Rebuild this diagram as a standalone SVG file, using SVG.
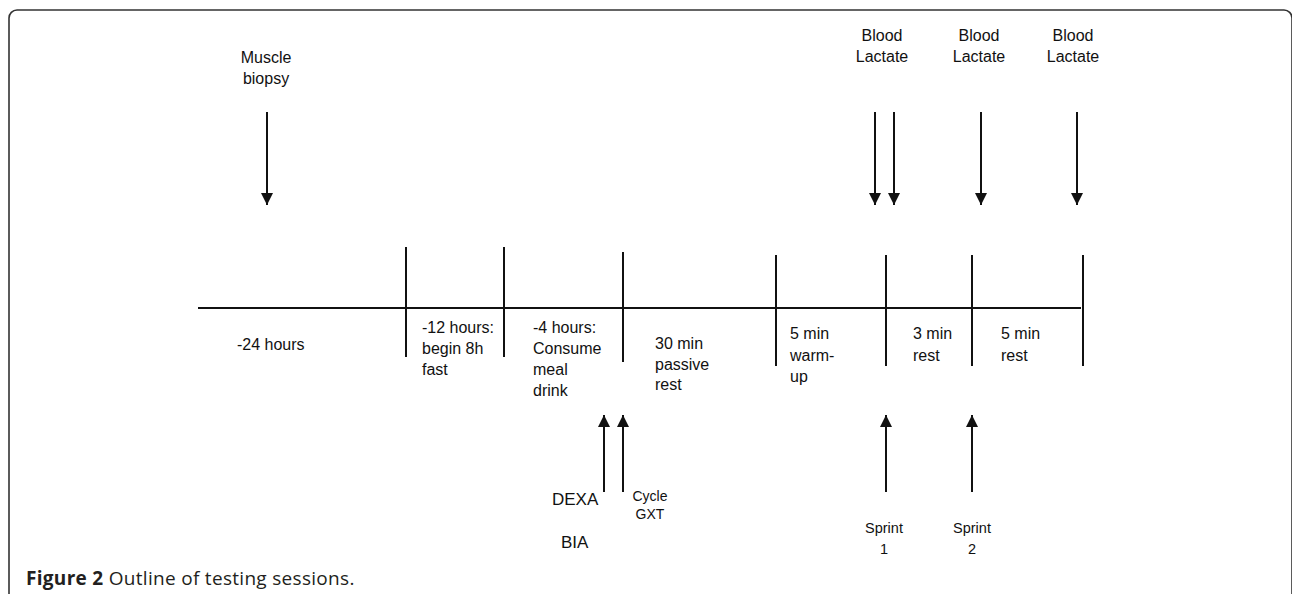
<svg xmlns="http://www.w3.org/2000/svg" width="1292" height="594" viewBox="0 0 1292 594">
<defs>
<style>
.t{font-family:"Liberation Sans",Arial,sans-serif;font-size:16px;fill:#111}
.m{text-anchor:middle}
.big{font-size:17px}
.sm{font-size:14px}
.sp{font-size:14.5px}
.ln{stroke:#111;stroke-width:2;fill:none}
.cap{font-family:"Open Sans","Noto Sans",sans-serif;font-size:19px;letter-spacing:0.3px;fill:#231f20}
</style>
<marker id="ah" markerUnits="userSpaceOnUse" markerWidth="12" markerHeight="12" refX="12" refY="6" orient="auto">
<path d="M0,0 L12,6 L0,12 z" fill="#111"/>
</marker>
</defs>
<rect width="1292" height="594" fill="#fff"/>
<path d="M9,594 V18 A8,8 0 0 1 17,10 H1284 A8,8 0 0 1 1292,18 V600" fill="none" stroke="#333" stroke-width="1.6"/>

<g id="timeline">
<line class="ln" x1="198" y1="308" x2="1081" y2="308"/>
<line class="ln" x1="406" y1="247" x2="406" y2="357"/>
<line class="ln" x1="504" y1="247" x2="504" y2="357"/>
<line class="ln" x1="623" y1="252" x2="623" y2="362"/>
<line class="ln" x1="776" y1="255" x2="776" y2="366"/>
<line class="ln" x1="886" y1="255" x2="886" y2="366"/>
<line class="ln" x1="972" y1="255" x2="972" y2="366"/>
<line class="ln" x1="1083" y1="255" x2="1083" y2="366"/>
</g>

<g id="connectors">
<line class="ln" x1="267" y1="112" x2="267" y2="205" marker-end="url(#ah)"/>
<line class="ln" x1="875" y1="112" x2="875" y2="205" marker-end="url(#ah)"/>
<line class="ln" x1="894" y1="112" x2="894" y2="205" marker-end="url(#ah)"/>
<line class="ln" x1="981" y1="112" x2="981" y2="205" marker-end="url(#ah)"/>
<line class="ln" x1="1077" y1="112" x2="1077" y2="205" marker-end="url(#ah)"/>
<line class="ln" x1="604" y1="492" x2="604" y2="415" marker-end="url(#ah)"/>
<line class="ln" x1="623" y1="492" x2="623" y2="415" marker-end="url(#ah)"/>
<line class="ln" x1="886" y1="492" x2="886" y2="415" marker-end="url(#ah)"/>
<line class="ln" x1="972" y1="492" x2="972" y2="415" marker-end="url(#ah)"/>
</g>

<g id="muscle-biopsy"><text class="t m" x="266" y="63">Muscle</text><text class="t m" x="266" y="84">biopsy</text></g>
<g id="lactate-1"><text class="t m" x="882" y="41">Blood</text><text class="t m" x="882" y="62">Lactate</text></g>
<g id="lactate-2"><text class="t m" x="979" y="41">Blood</text><text class="t m" x="979" y="62">Lactate</text></g>
<g id="lactate-3"><text class="t m" x="1073" y="41">Blood</text><text class="t m" x="1073" y="62">Lactate</text></g>

<g id="seg-24h"><text class="t" x="237" y="350">-24 hours</text></g>
<g id="seg-12h"><text class="t" x="422" y="333">-12 hours:</text><text class="t" x="422" y="354">begin 8h</text><text class="t" x="422" y="375">fast</text></g>
<g id="seg-4h"><text class="t" x="533" y="333">-4 hours:</text><text class="t" x="533" y="354">Consume</text><text class="t" x="533" y="375">meal</text><text class="t" x="533" y="396">drink</text></g>
<g id="seg-30min"><text class="t" x="655" y="349">30 min</text><text class="t" x="655" y="370">passive</text><text class="t" x="655" y="390">rest</text></g>
<g id="seg-warmup"><text class="t" x="790" y="339">5 min</text><text class="t" x="790" y="361">warm-</text><text class="t" x="790" y="382">up</text></g>
<g id="seg-3min"><text class="t" x="913" y="339">3 min</text><text class="t" x="913" y="361">rest</text></g>
<g id="seg-5min"><text class="t" x="1001" y="339">5 min</text><text class="t" x="1001" y="361">rest</text></g>

<g id="dexa"><text class="t big" x="552" y="505">DEXA</text><text class="t big" x="561" y="548">BIA</text></g>
<g id="cycle"><text class="t sm m" x="650" y="501">Cycle</text><text class="t sm m" x="650" y="519">GXT</text></g>
<g id="sprint-1"><text class="t sp m" x="884" y="533">Sprint</text><text class="t sp m" x="884" y="554">1</text></g>
<g id="sprint-2"><text class="t sp m" x="972" y="533">Sprint</text><text class="t sp m" x="972" y="554">2</text></g>

<text class="cap" x="26" y="585"><tspan font-weight="bold">Figure 2</tspan> Outline of testing sessions.</text>
</svg>
